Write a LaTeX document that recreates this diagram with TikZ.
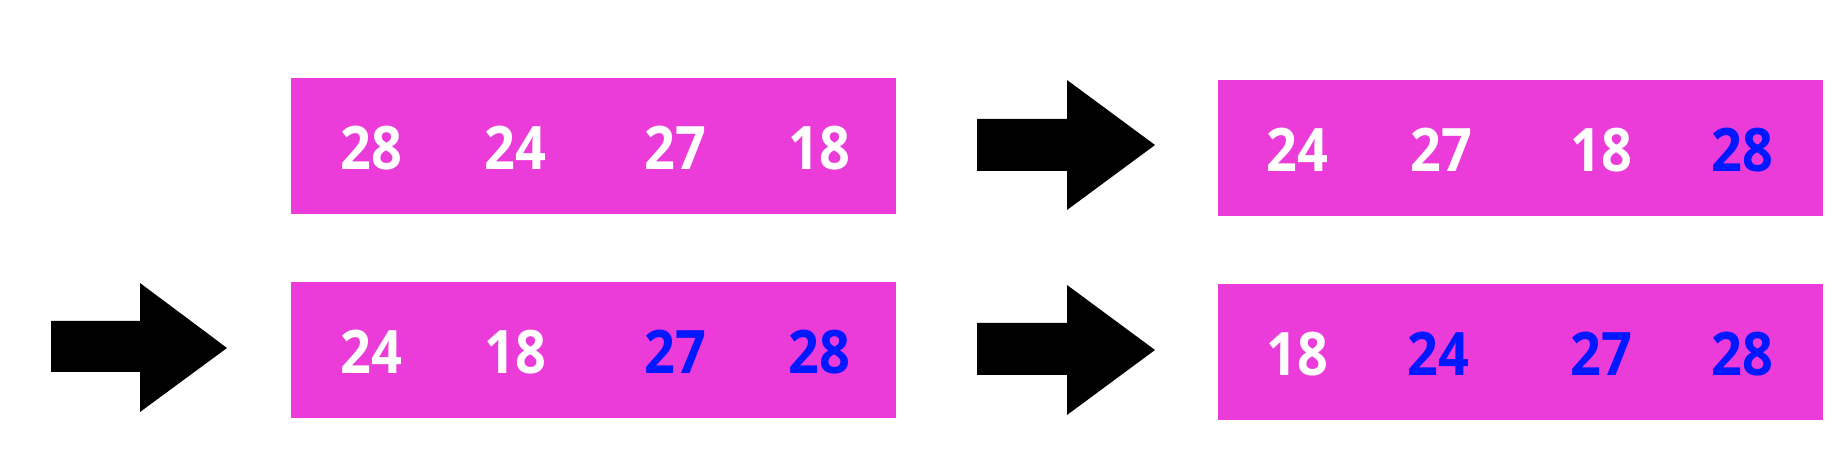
\documentclass[tikz,border=0pt]{standalone}
\usepackage{fontspec}
\setmainfont[FakeStretch=0.9]{Open Sans}
\definecolor{boxmag}{RGB}{235,59,217}
\definecolor{sortblue}{RGB}{0,24,255}
\tikzset{
  arraybox/.style={fill=boxmag, draw=none, inner sep=0pt, minimum width=302.5pt, minimum height=68pt},
  num/.style={text=white, font=\fontsize{30}{30}\selectfont\bfseries, inner sep=0pt, anchor=center},
  done/.style={num, text=sortblue},
  fatarrow/.style={fill=black}
}
\begin{document}
\begin{tikzpicture}[x=0.5pt,y=-0.5pt]
\useasboundingbox (0,0) rectangle (1848,458);
% boxes
\node[arraybox] (b1) at (593.5,146) {};
\node[arraybox] (b2) at (1520,148.5) {};
\node[arraybox] (b3) at (593.5,350.5) {};
\node[arraybox] (b4) at (1520,352) {};
% numbers box 1
\node[num] (n11) at (371,148) {28};
\node[num] (n12) at (515,148) {24};
\node[num] (n13) at (675,148) {27};
\node[num] (n14) at (819,148) {18};
% numbers box 2
\node[num] (n21) at (1297,150) {24};
\node[num] (n22) at (1441,150) {27};
\node[num] (n23) at (1601,150) {18};
\node[done] (n24) at (1742,150) {28};
% numbers box 3
\node[num] (n31) at (371,352) {24};
\node[num] (n32) at (515,352) {18};
\node[done] (n33) at (675,352) {27};
\node[done] (n34) at (819,352) {28};
% numbers box 4
\node[num] (n41) at (1297,354) {18};
\node[done] (n42) at (1438,354) {24};
\node[done] (n43) at (1601,354) {27};
\node[done] (n44) at (1742,354) {28};
% arrows
\fill[fatarrow] (977,119) -- (1067,119) -- (1067,80) -- (1155,145) -- (1067,210) -- (1067,171) -- (977,171) -- cycle;
\fill[fatarrow] (51,321) -- (140,321) -- (140,283) -- (227,348) -- (140,412) -- (140,372) -- (51,372) -- cycle;
\fill[fatarrow] (977,323) -- (1067,323) -- (1067,285) -- (1155,350) -- (1067,415) -- (1067,375) -- (977,375) -- cycle;
\end{tikzpicture}
\end{document}
